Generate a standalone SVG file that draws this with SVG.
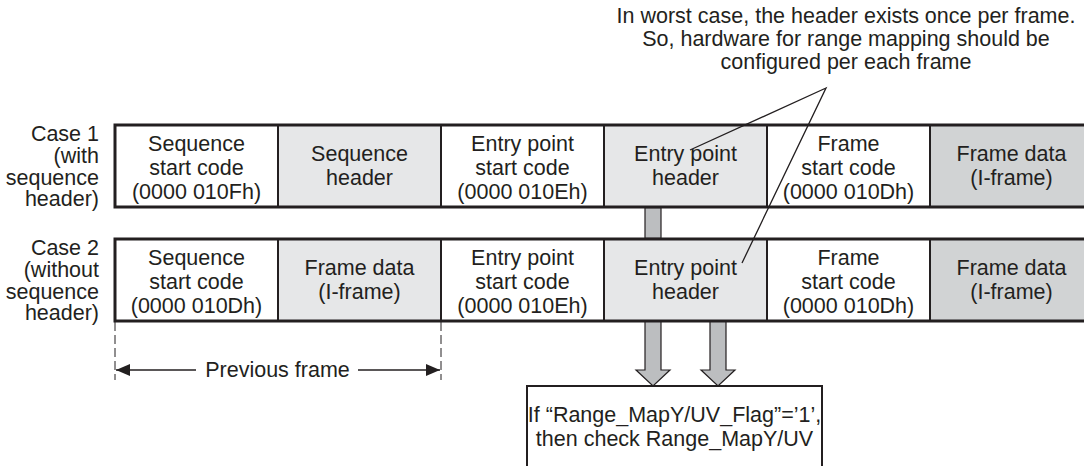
<svg xmlns="http://www.w3.org/2000/svg" width="1084" height="466" viewBox="0 0 1084 466">
<style>
text{font-family:"Liberation Sans",Arial,sans-serif;font-size:21.5px;fill:#231f20}
.c{text-anchor:middle}
.r{text-anchor:end}
.cell{stroke:#231f20;stroke-width:2}
.w{fill:#ffffff}
.l{fill:#e6e7e8}
.d{fill:#d1d3d4}
.frame{fill:none;stroke:#231f20;stroke-width:3}
.ga{fill:#bcbec0;stroke:#231f20;stroke-width:1.2}
.ln{stroke:#231f20;stroke-width:1.3;fill:none}
</style>
<defs>
<marker id="ah" viewBox="0 0 14 12" refX="14" refY="6" markerWidth="14" markerHeight="12" markerUnits="userSpaceOnUse" orient="auto-start-reverse">
<path d="M0,0 L14,6 L0,12 Z" fill="#231f20"/>
</marker>
</defs>

<g id="note">
<text class="c" x="846" y="23">In worst case, the header exists once per frame.</text>
<text class="c" x="846" y="46">So, hardware for range mapping should be</text>
<text class="c" x="846" y="69">configured per each frame</text>
</g>

<g id="case1-label">
<text class="r" x="99" y="141">Case 1</text>
<text class="r" x="99" y="163">(with</text>
<text class="r" x="99" y="184.5">sequence</text>
<text class="r" x="99" y="206">header)</text>
</g>
<g id="case2-label">
<text class="r" x="99" y="255">Case 2</text>
<text class="r" x="99" y="277">(without</text>
<text class="r" x="99" y="298.5">sequence</text>
<text class="r" x="99" y="320">header)</text>
</g>

<g id="r1c1"><rect class="cell w" x="115" y="125" width="163" height="82"/>
<text class="c" x="196.5" y="151">Sequence</text><text class="c" x="196.5" y="175">start code</text><text class="c" x="196.5" y="199">(0000 010Fh)</text></g>
<g id="r1c2"><rect class="cell l" x="278" y="125" width="163" height="82"/>
<text class="c" x="359.5" y="161">Sequence</text><text class="c" x="359.5" y="185">header</text></g>
<g id="r1c3"><rect class="cell w" x="441" y="125" width="163" height="82"/>
<text class="c" x="522.5" y="151">Entry point</text><text class="c" x="522.5" y="175">start code</text><text class="c" x="522.5" y="199">(0000 010Eh)</text></g>
<g id="r1c4"><rect class="cell l" x="604" y="125" width="163" height="82"/>
<text class="c" x="685.5" y="161">Entry point</text><text class="c" x="685.5" y="185">header</text></g>
<g id="r1c5"><rect class="cell w" x="767" y="125" width="163" height="82"/>
<text class="c" x="848.5" y="151">Frame</text><text class="c" x="848.5" y="175">start code</text><text class="c" x="848.5" y="199">(0000 010Dh)</text></g>
<g id="r1c6"><rect class="cell d" x="930" y="125" width="160" height="82"/>
<text class="c" x="1011.5" y="161">Frame data</text><text class="c" x="1011.5" y="185">(I-frame)</text></g>
<path class="frame" d="M1090,125 H115 V207 H1090"/>

<g id="r2c1"><rect class="cell w" x="115" y="239" width="163" height="82"/>
<text class="c" x="196.5" y="265">Sequence</text><text class="c" x="196.5" y="289">start code</text><text class="c" x="196.5" y="313">(0000 010Dh)</text></g>
<g id="r2c2"><rect class="cell l" x="278" y="239" width="163" height="82"/>
<text class="c" x="359.5" y="275">Frame data</text><text class="c" x="359.5" y="299">(I-frame)</text></g>
<g id="r2c3"><rect class="cell w" x="441" y="239" width="163" height="82"/>
<text class="c" x="522.5" y="265">Entry point</text><text class="c" x="522.5" y="289">start code</text><text class="c" x="522.5" y="313">(0000 010Eh)</text></g>
<g id="r2c4"><rect class="cell l" x="604" y="239" width="163" height="82"/>
<text class="c" x="685.5" y="275">Entry point</text><text class="c" x="685.5" y="299">header</text></g>
<g id="r2c5"><rect class="cell w" x="767" y="239" width="163" height="82"/>
<text class="c" x="848.5" y="265">Frame</text><text class="c" x="848.5" y="289">start code</text><text class="c" x="848.5" y="313">(0000 010Dh)</text></g>
<g id="r2c6"><rect class="cell d" x="930" y="239" width="160" height="82"/>
<text class="c" x="1011.5" y="275">Frame data</text><text class="c" x="1011.5" y="299">(I-frame)</text></g>
<path class="frame" d="M1090,239 H115 V321 H1090"/>

<g id="check-box">
<rect x="527" y="386" width="295" height="100" fill="#ffffff" stroke="#231f20" stroke-width="2"/>
<text class="c" x="674.5" y="422">If “Range_MapY/UV_Flag”=’1’,</text>
<text class="c" x="674.5" y="446">then check Range_MapY/UV</text>
</g>

<g id="connectors">
<rect class="ga" x="645" y="208" width="16" height="30"/>
<path class="ga" d="M645,322 V370 H636 L653,386 L670,370 H661 V322 Z"/>
<path class="ga" d="M710,322 V370 H701 L718,386 L735,370 H726 V322 Z"/>
<path class="ln" d="M690,150 L826,88 L742,263"/>
<line x1="115" y1="322" x2="115" y2="380" stroke="#231f20" stroke-width="1" stroke-dasharray="9 4"/>
<line x1="441" y1="322" x2="441" y2="380" stroke="#231f20" stroke-width="1" stroke-dasharray="9 4"/>
<line x1="196" y1="370" x2="116" y2="370" stroke="#231f20" stroke-width="1.3" marker-end="url(#ah)"/>
<line x1="358" y1="370" x2="440" y2="370" stroke="#231f20" stroke-width="1.3" marker-end="url(#ah)"/>
<text class="c" x="277.5" y="377">Previous frame</text>
</g>
</svg>
